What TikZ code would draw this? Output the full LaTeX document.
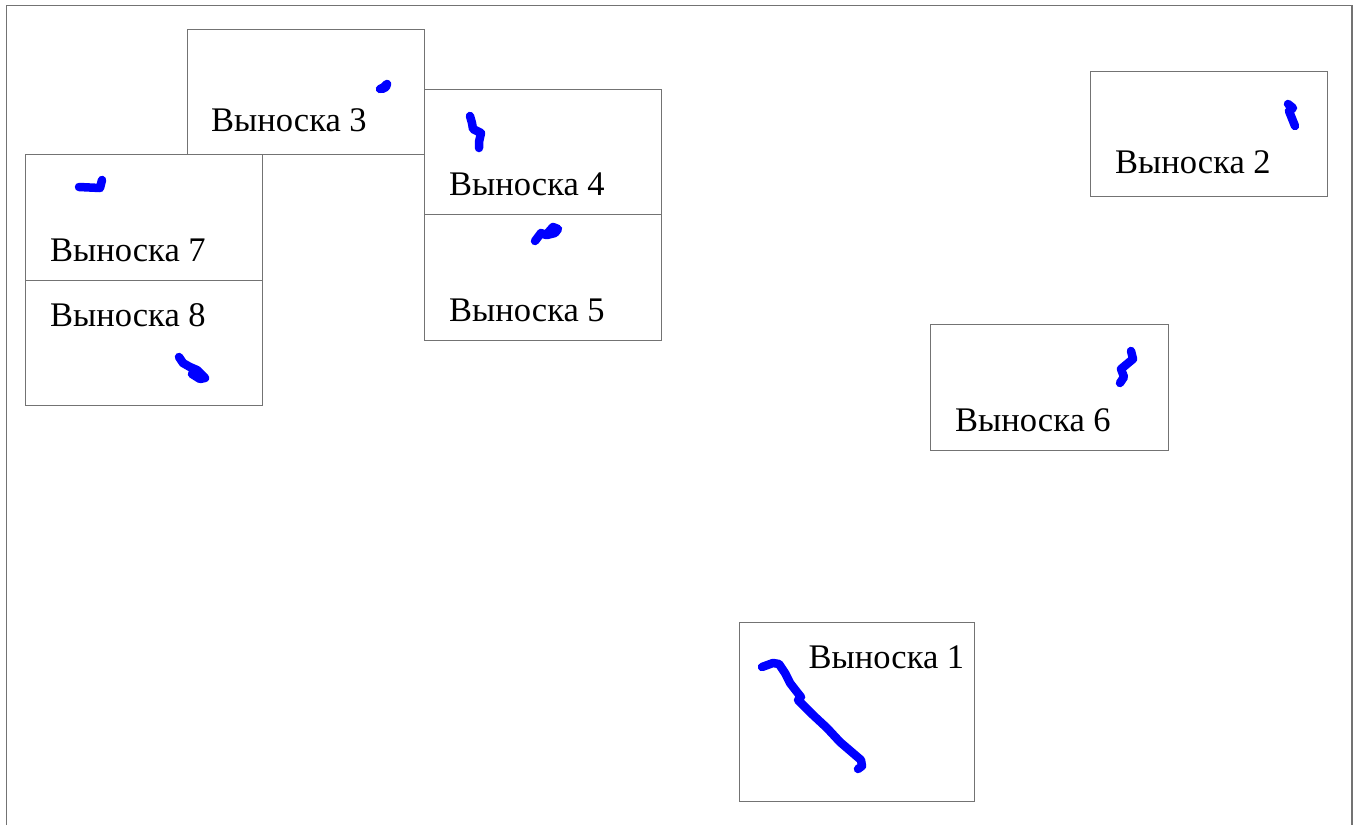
\documentclass[tikz,border=0pt]{standalone}
\usepackage{fontspec}
\setmainfont{Liberation Serif}
\begin{document}
\begin{tikzpicture}[x=1pt,y=-1pt,
  box/.style={draw=black!55,line width=0.9pt},
  lbl/.style={anchor=base west,inner sep=0pt,font=\fontsize{34.5}{40}\selectfont},
  ink/.style={draw=blue,line width=8.5pt,line cap=round,line join=round}]
\useasboundingbox (0,0) rectangle (1359,825);
\fill[white] (0,0) rectangle (1359,825);
% outer frame (open at the bottom)
\draw[draw=black!55,line width=1.4pt] (6.5,825) -- (6.5,5.5) -- (1352,5.5) -- (1352,825);
% boxes
\draw[box] (187,29) rectangle (424,154);
\draw[box] (424,89) rectangle (661,214);
\draw[box] (424,214) rectangle (661,340);
\draw[box] (25,154) rectangle (262,280);
\draw[box] (25,280) rectangle (262,405);
\draw[box] (1090,71) rectangle (1327,196);
\draw[box] (930,324) rectangle (1168,450);
\draw[box] (739,622) rectangle (974,801);
% labels
\node[lbl] (t1) at (808.5,668.5) {Выноска 1};
\node[lbl] (t2) at (1115,173.5) {Выноска 2};
\node[lbl] (t3) at (211,131.5) {Выноска 3};
\node[lbl] (t4) at (449,195.5) {Выноска 4};
\node[lbl] (t5) at (449,321) {Выноска 5};
\node[lbl] (t6) at (955,431.5) {Выноска 6};
\node[lbl] (t7) at (50,261.5) {Выноска 7};
\node[lbl] (t8) at (50,326.5) {Выноска 8};
% ink strokes
\draw[ink] (762,667) -- (773,663) -- (779,664) -- (785,673) -- (790,683) -- (797,692) -- (801,697) -- (798,700) -- (813,715) -- (827,728) -- (840,742) -- (861,760) -- (862,766) -- (858,769);
\draw[ink] (380,89) -- (384,87) -- (387,84) -- (386,87) -- (382,89);
\draw[ink] (470,116) -- (472,123) -- (473,129) -- (481,133) -- (479,142) -- (479,148);
\draw[ink] (535,241) -- (541,233) -- (546,235) -- (553,227) -- (558,229) -- (555,233) -- (547,235);
\draw[ink] (79,187) -- (100,188) -- (102,180);
\draw[ink] (179,357) -- (183,363) -- (190,367) -- (197,370) -- (205,378) -- (200,379) -- (192,374);
\draw[ink] (1131,351) -- (1133,359) -- (1121,369) -- (1124,377) -- (1120,383);
\draw[ink] (1288,104) -- (1293,108) -- (1289,111) -- (1295,126);
\end{tikzpicture}
\end{document}
